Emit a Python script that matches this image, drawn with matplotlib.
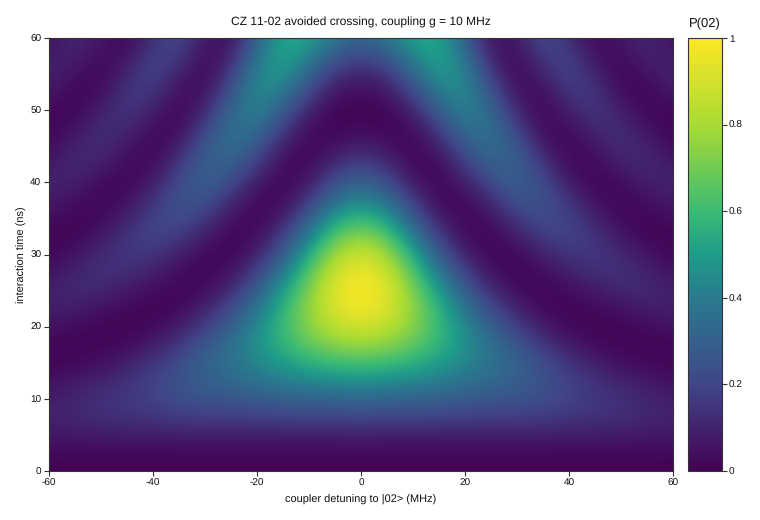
import numpy as np
import matplotlib
matplotlib.use("Agg")
import matplotlib.pyplot as plt
from matplotlib.colors import LinearSegmentedColormap

plt.rcParams['font.family'] = ['Liberation Sans', 'DejaVu Sans']
plt.rcParams['axes.unicode_minus'] = False
plt.rcParams['text.hinting'] = 'no_hinting'
plt.rcParams['text.hinting_factor'] = 1

TITLE = "CZ 11-02 avoided crossing, coupling g = 10 MHz"
XLABEL = "coupler detuning to |02> (MHz)"
YLABEL = "interaction time (ns)"
CBAR_TITLE = "P(02)"
XTICKS = [-60, -40, -20, 0, 20, 40, 60]
YTICKS = [0, 10, 20, 30, 40, 50, 60]
CTICKS = [0, 0.2, 0.4, 0.6, 0.8, 1]
CTICKLABELS = ["0", "0.2", "0.4", "0.6", "0.8", "1"]
INK = "#111111"
EDGE = "#333333"

# colour bar: data value -> position along viridis
cbar_values = [0.0, .2, .4, .5, .6, .8, 1.0]
cbar_viridis = [0.0, .21, .41, .55, .68, .87, 1.0]

detuning_abs = [0, 5, 10, 15, 20, 25, 30, 35, 40, 45, 50, 55, 60]
times = [0, 2.5, 5, 7.5, 10, 12.5, 15, 17.5, 20, 22.5, 25, 27.5, 30, 32.5, 35,
         37.5, 40, 42.5, 45, 47.5, 50, 52.5, 55, 57.5, 60]

# P(02), one list per |detuning|, bottom to top in time
p_00 = [0, .02, .10, .20, .33, .47, .62, .77, .90, .98, 1, .98, .90, .76, .60, .45, .32, .20, .10, .03, .01, .03, .10, .20, .31]
p_05 = [0, .02, .09, .19, .32, .46, .60, .74, .85, .92, .94, .89, .79, .66, .51, .37, .24, .13, .05, .01, .01, .06, .14, .26, .39]
p_10 = [0, .02, .09, .19, .31, .44, .56, .67, .74, .76, .72, .65, .54, .42, .29, .17, .07, .02, .01, .03, .10, .20, .32, .43, .52]
p_15 = [0, .02, .09, .19, .30, .41, .50, .57, .59, .57, .50, .40, .29, .18, .08, .02, .01, .02, .08, .18, .29, .40, .49, .54, .54]
p_20 = [0, .02, .09, .18, .28, .37, .44, .47, .45, .38, .30, .19, .09, .03, .01, .02, .08, .17, .27, .36, .43, .46, .44, .38, .31]
p_25 = [0, .02, .09, .17, .26, .33, .37, .36, .30, .22, .12, .05, .01, .01, .05, .12, .22, .30, .36, .37, .33, .26, .17, .09, .03]
p_30 = [0, .02, .09, .17, .25, .30, .31, .26, .18, .10, .03, .01, .02, .08, .16, .25, .30, .31, .27, .19, .11, .04, .01, .02, .07]
p_35 = [0, .02, .09, .17, .23, .25, .22, .16, .08, .02, .01, .03, .09, .17, .23, .25, .22, .16, .08, .02, .01, .03, .10, .17, .23]
p_40 = [0, .02, .08, .15, .19, .19, .15, .08, .02, .01, .03, .09, .15, .20, .19, .15, .08, .02, .01, .03, .09, .16, .20, .19, .14]
p_45 = [0, .02, .08, .14, .16, .14, .09, .03, .01, .02, .07, .13, .16, .15, .10, .04, .01, .02, .06, .12, .16, .16, .11, .05, .01]
p_50 = [0, .02, .08, .13, .14, .10, .04, .01, .01, .05, .11, .14, .12, .07, .02, .01, .03, .09, .13, .13, .09, .03, .01, .02, .07]
p_55 = [0, .02, .07, .11, .11, .07, .02, .01, .03, .08, .12, .10, .06, .01, .01, .04, .09, .12, .10, .05, .01, .01, .05, .10, .12]
p_60 = [0, .02, .07, .10, .08, .04, .01, .01, .05, .09, .09, .05, .01, .01, .04, .08, .10, .07, .02, .01, .02, .07, .10, .08, .04]

right = np.array([p_00, p_05, p_10, p_15, p_20, p_25, p_30, p_35, p_40, p_45, p_50, p_55, p_60]).T
grid = np.hstack([right[:, :0:-1], right])
dx = detuning_abs[1] - detuning_abs[0]
dt = times[1] - times[0]

viridis = plt.get_cmap('viridis')
cmap = LinearSegmentedColormap.from_list(
    'reference_scale',
    [(v, viridis(p)) for v, p in zip(cbar_values, cbar_viridis)], N=512)

fig = plt.figure(figsize=(7.6, 5.2), dpi=100)
W, H = 760, 520
ax = fig.add_axes([49 / W, 1 - 471 / H, (673 - 49) / W, (471 - 38) / H])
im = ax.imshow(grid, origin='lower', aspect='auto', cmap=cmap, vmin=0, vmax=1,
               interpolation='bicubic',
               extent=(-detuning_abs[-1] - dx / 2, detuning_abs[-1] + dx / 2,
                       times[0] - dt / 2, times[-1] + dt / 2))
ax.set_xlim(-60, 60)
ax.set_ylim(0, 60)
ax.set_xticks(XTICKS)
ax.set_yticks(YTICKS)
ax.tick_params(labelsize=7.2, length=3.5, width=0.8, pad=2, color=EDGE, labelcolor=INK)
ax.set_xlabel(XLABEL, fontsize=8, labelpad=5, color=INK)
ax.set_ylabel(YLABEL, fontsize=8, labelpad=2.5, color=INK)
ax.set_title(TITLE, fontsize=8.6, pad=9, color=INK)
for s in ax.spines.values():
    s.set_color(EDGE)

cax = fig.add_axes([688 / W, 1 - 471 / H, (722 - 688) / W, (471 - 38) / H])
cb = fig.colorbar(im, cax=cax)
cb.set_ticks(CTICKS)
cb.set_ticklabels(CTICKLABELS)
cb.ax.tick_params(labelsize=7.2, length=3.5, width=0.8, pad=1.5, color=EDGE, labelcolor=INK)
cb.outline.set_edgecolor(EDGE)
cax.set_title(CBAR_TITLE, fontsize=9.5, pad=8, color=INK)

fig.savefig("out.png", dpi=100)
